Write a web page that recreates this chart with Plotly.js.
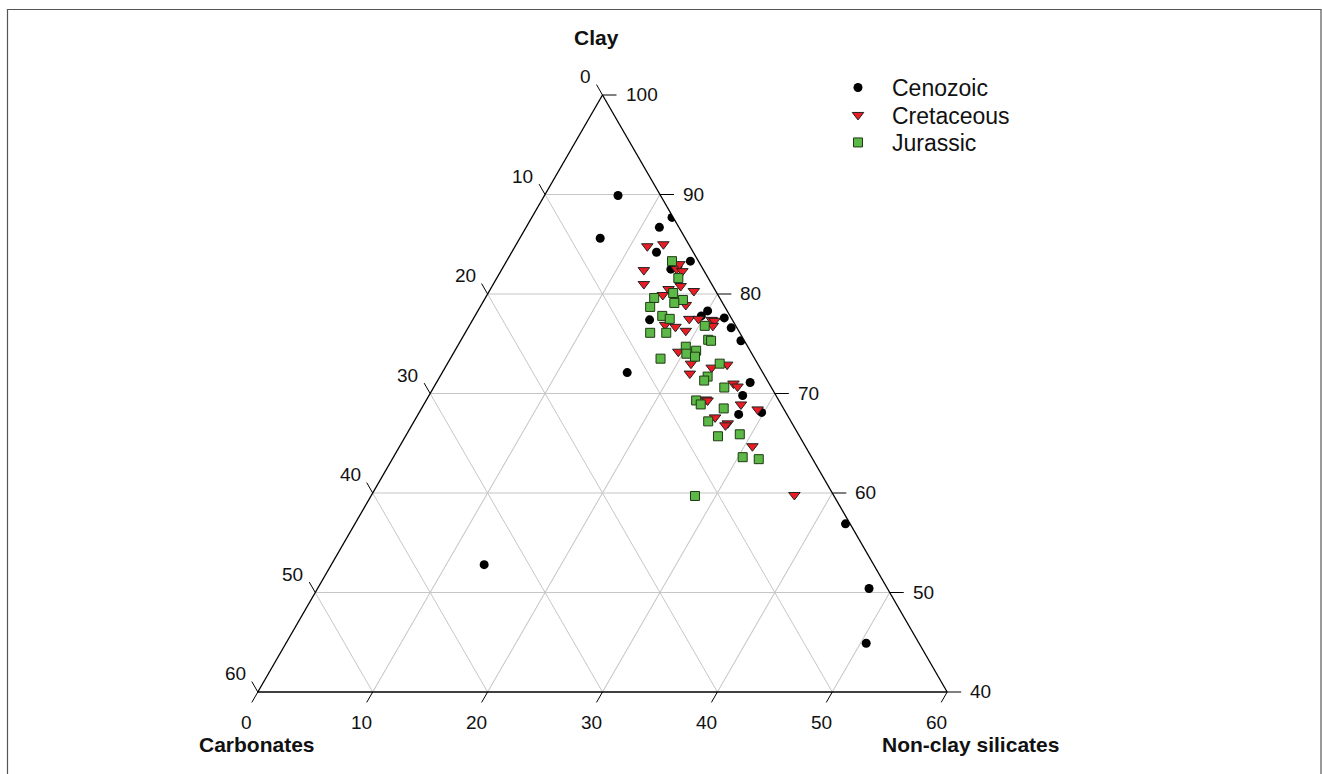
<!DOCTYPE html>
<html>
<head>
<meta charset="utf-8">
<script src="https://cdn.plot.ly/plotly-3.0.1.min.js"></script>
<style>
  html, body { margin: 0; padding: 0; background: #ffffff; }
  #chart { width: 1322px; height: 774px; }
</style>
</head>
<body>
<div id="chart"></div>
<script>
// ---------------- data (percent) ----------------
const cenozoicClay        = [89.9, 85.6, 87.7, 86.7, 84.2, 83.3, 82.5, 77.4, 78.3, 77.8, 77.6, 76.6, 75.3, 72.1, 71.1, 69.8, 68.1, 67.9, 56.9, 50.4, 44.9, 52.8];
const cenozoicCarbonates  = [ 3.7,  7.4,  0.1,  1.7,  3.2,  0.7,  2.8,  7.2,  1.7,  2.5,  0.6,  0.5,  0.3, 11.8,  1.6,  2.9,  2.1,  4.2,  0.4,  1.6,  4.6, 33.9];
const cenozoicNonClay     = [ 6.4,  7.0, 12.2, 11.6, 12.6, 16.0, 14.7, 15.4, 20.0, 19.7, 21.8, 22.9, 24.4, 16.1, 27.3, 27.3, 29.8, 27.9, 42.7, 48.0, 50.5, 13.3];

const cretaceousClay       = [84.8, 85.0, 82.4, 81.0, 82.5, 82.3, 83.0, 80.8, 80.3, 80.5, 79.9, 78.9, 76.9, 76.7, 76.3, 77.5, 77.5, 77.4, 77.3, 76.8, 74.2, 73.0, 72.6, 72.9, 72.0, 71.0, 70.7, 69.4, 69.3, 68.9, 68.4, 67.6, 67.0, 66.8, 64.7, 59.8];
const cretaceousCarbonates = [ 3.7,  2.2,  5.2,  5.9,  2.3,  1.9,  1.8,  2.8,  1.9,  4.0,  4.8,  3.3,  6.1,  5.3,  4.6,  3.7,  2.9,  1.8,  1.6,  2.0,  6.3,  5.8,  4.2,  2.7,  6.4,  3.1,  2.9,  6.3,  6.2,  3.5,  2.3,  6.4,  5.6,  5.9,  4.6,  3.4];
const cretaceousNonClay    = [11.5, 12.8, 12.4, 13.1, 15.2, 15.8, 15.2, 16.4, 17.8, 15.5, 15.3, 17.8, 17.0, 18.0, 19.1, 18.8, 19.6, 20.8, 21.1, 21.2, 19.5, 21.2, 23.2, 24.4, 21.6, 25.9, 26.4, 24.3, 24.5, 27.6, 29.3, 26.0, 27.4, 27.3, 30.7, 36.8];

const jurassicClay       = [83.3, 81.6, 80.1, 79.6, 79.4, 78.7, 79.1, 77.8, 77.5, 76.8, 76.1, 76.1, 75.4, 75.3, 74.7, 74.3, 74.0, 73.7, 73.5, 73.0, 71.7, 71.3, 70.6, 69.3, 68.9, 68.5, 67.2, 65.9, 65.7, 63.6, 63.4, 59.7];
const jurassicCarbonates = [ 2.3,  2.6,  3.8,  5.7,  3.3,  6.5,  4.2,  5.9,  5.4,  2.7,  7.8,  6.4,  3.1,  2.9,  5.4,  4.7,  5.7,  5.1,  8.2,  3.3,  5.0,  5.5,  4.1,  7.2,  7.0,  5.2,  7.2,  5.1,  7.1,  6.0,  4.7, 12.1];
const jurassicNonClay    = [14.4, 15.8, 16.1, 14.7, 17.3, 14.8, 16.7, 16.3, 17.1, 20.5, 16.1, 17.5, 21.5, 21.8, 19.9, 21.0, 20.3, 21.2, 18.3, 23.7, 23.3, 23.2, 25.3, 23.5, 24.1, 26.3, 25.6, 29.0, 27.2, 30.4, 31.9, 28.2];

// ---------------- ticks ----------------
const clayTicks          = [40, 50, 60, 70, 80, 90, 100];
const clayTickLabels     = ['40', '50', '60', '70', '80', '90', '100'];
const carbonateTicks      = [0, 10, 20, 30, 40, 50, 60];
const carbonateTickLabels = ['0', '10', '20', '30', '40', '50', '60'];
const nonClayTicks        = [0, 10, 20, 30, 40, 50, 60];
const nonClayTickLabels   = ['0', '10', '20', '30', '40', '50', '60'];

const seriesNames = ['Cenozoic', 'Cretaceous', 'Jurassic'];
const axisTitles  = ['Clay', 'Carbonates', 'Non-clay silicates'];

// ---------------- layout helpers ----------------
const W = 1322, H = 774;
const M = { l: 100, r: 217, t: 95, b: 82 };
const PW = W - M.l - M.r, PH = H - M.t - M.b;
const px2x = p => (p - M.l) / PW;
const py2y = p => (H - M.b - p) / PH;
const FONT = 'Liberation Sans, Arial, sans-serif';
const TEXT = '#111111';

// Triangle placement exactly as Plotly lays out a ternary subplot in its domain
const CLAY_MIN = 40, SPAN = 60;
const triW = Math.min(PW, PH * 2 / Math.sqrt(3));
const triH = triW * Math.sqrt(3) / 2;
const X0 = M.l + PW / 2 - triW / 2, Y0 = M.t + PH / 2 - triH / 2;
const TOP = [X0 + triW / 2, Y0], BL = [X0, Y0 + triH], BR = [X0 + triW, Y0 + triH];
function tern2px(clay, carb, nonclay) {
  const fa = (clay - CLAY_MIN) / SPAN, fb = carb / SPAN, fc = nonclay / SPAN;
  return [fa * TOP[0] + fb * BL[0] + fc * BR[0], fa * TOP[1] + fb * BL[1] + fc * BR[1]];
}
function unit(p, q) { const dx = q[0] - p[0], dy = q[1] - p[1], n = Math.hypot(dx, dy); return [dx / n, dy / n]; }

const shapes = [];
const annotations = [];
function addTick(edgePt, dir, len) {
  const end = [edgePt[0] + dir[0] * len, edgePt[1] + dir[1] * len];
  shapes.push({ type: 'line', xref: 'paper', yref: 'paper',
    x0: px2x(edgePt[0]), y0: py2y(edgePt[1]), x1: px2x(end[0]), y1: py2y(end[1]),
    line: { color: '#000000', width: 1 } });
  return end;
}
function addLabel(text, px, py, xanchor) {
  annotations.push({ text: text, x: px2x(px), y: py2y(py), xref: 'paper', yref: 'paper',
    xanchor: xanchor, yanchor: 'middle', showarrow: false,
    font: { family: FONT, size: 19, color: TEXT } });
}

// left edge: carbonates (ticks continue the carbonate grid lines outward)
const dirLeft = unit(BR, TOP);
carbonateTicks.forEach((v, i) => {
  const e = addTick(tern2px(100 - v, v, 0), dirLeft, 12);
  addLabel(carbonateTickLabels[i], e[0] - 4, e[1] - 8, 'right');
});
// bottom edge: non-clay silicates
const dirBottom = unit(TOP, BL);
nonClayTicks.forEach((v, i) => {
  const e = addTick(tern2px(CLAY_MIN, SPAN - v, v), dirBottom, 12);
  addLabel(nonClayTickLabels[i], e[0] - 5, e[1] + 20, 'center');
});
// right edge: clay
clayTicks.forEach((v, i) => {
  const p = tern2px(v, 0, 100 - v);
  const e = addTick(p, [1, 0], 14);
  addLabel(clayTickLabels[i], e[0] + 7, p[1] - 0.5, 'left');
});

// axis titles
annotations.push(
  { text: '<b>' + axisTitles[0] + '</b>', x: px2x(596), y: py2y(38), xref: 'paper', yref: 'paper',
    xanchor: 'center', yanchor: 'middle', showarrow: false, font: { family: FONT, size: 21, color: TEXT } },
  { text: '<b>' + axisTitles[1] + '</b>', x: px2x(257), y: py2y(745), xref: 'paper', yref: 'paper',
    xanchor: 'center', yanchor: 'middle', showarrow: false, font: { family: FONT, size: 21, color: TEXT } },
  { text: '<b>' + axisTitles[2] + '</b>', x: px2x(970), y: py2y(745), xref: 'paper', yref: 'paper',
    xanchor: 'center', yanchor: 'middle', showarrow: false, font: { family: FONT, size: 21, color: TEXT } }
);

// figure frame
shapes.push({ type: 'rect', xref: 'paper', yref: 'paper', layer: 'below',
  x0: px2x(7.5), x1: px2x(1321), y0: py2y(800), y1: py2y(9.5),
  line: { color: '#555555', width: 1.2 }, fillcolor: 'rgba(0,0,0,0)' });

function axisStyle(extra) {
  return Object.assign({
    tickmode: 'array',
    ticks: '',
    showticklabels: false,
    showline: true,
    linecolor: '#000000',
    linewidth: 1.3,
    showgrid: true,
    gridcolor: '#c6c6c6',
    gridwidth: 1,
    title: { text: '' }
  }, extra);
}

const traces = [
  {
    type: 'scatterternary', mode: 'markers', name: seriesNames[0], legend: 'legend',
    a: cenozoicClay, b: cenozoicCarbonates, c: cenozoicNonClay,
    marker: { symbol: 'circle', size: 9, color: '#000000', line: { width: 0 } }
  },
  {
    type: 'scatterternary', mode: 'markers', name: seriesNames[1], legend: 'legend2',
    a: cretaceousClay, b: cretaceousCarbonates, c: cretaceousNonClay,
    marker: { symbol: 'triangle-down', size: 10, color: '#ec1c24', line: { width: 1, color: '#222222' } }
  },
  {
    type: 'scatterternary', mode: 'markers', name: seriesNames[2], legend: 'legend3',
    a: jurassicClay, b: jurassicCarbonates, c: jurassicNonClay,
    marker: { symbol: 'square', size: 9, color: '#5cb847', line: { width: 1, color: '#1f3a12' } }
  }
];

function legendAt(rowCenterPx) {
  return {
    x: px2x(824), y: py2y(rowCenterPx - 22), xanchor: 'left', yanchor: 'top',
    itemwidth: 58,
    font: { family: FONT, size: 23, color: TEXT },
    bgcolor: 'rgba(0,0,0,0)', borderwidth: 0
  };
}

const layout = {
  width: W, height: H,
  margin: M,
  paper_bgcolor: '#ffffff',
  font: { family: FONT, color: TEXT },
  showlegend: true,
  legend: legendAt(88),
  legend2: legendAt(115.5),
  legend3: legendAt(143),
  ternary: {
    sum: 100,
    bgcolor: '#ffffff',
    domain: { x: [0, 1], y: [0, 1] },
    aaxis: axisStyle({ min: CLAY_MIN, tickvals: clayTicks }),
    baxis: axisStyle({ min: 0, tickvals: carbonateTicks }),
    caxis: axisStyle({ min: 0, tickvals: nonClayTicks })
  },
  annotations: annotations,
  shapes: shapes
};

Plotly.newPlot('chart', traces, layout, { displayModeBar: false, responsive: false });
</script>
</body>
</html>
